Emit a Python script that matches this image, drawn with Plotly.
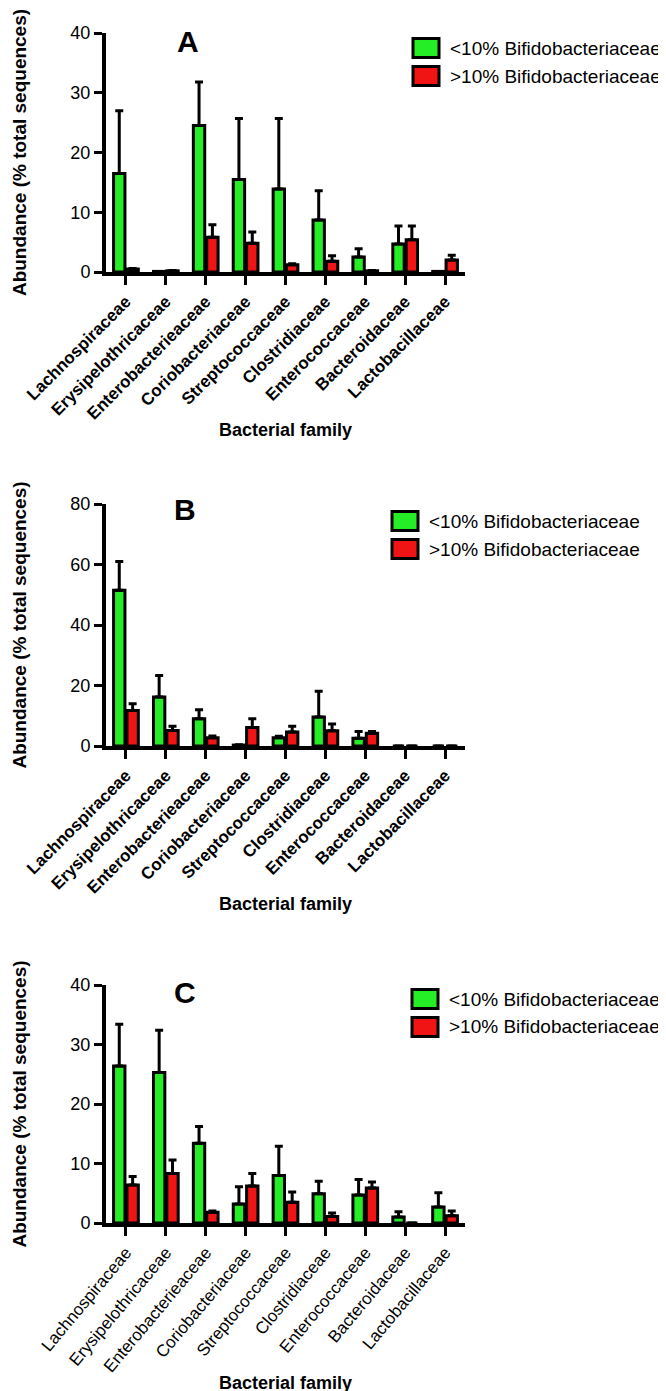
import plotly.graph_objects as go

# ---------------- data ----------------
families = ["Lachnospiraceae", "Erysipelothricaceae", "Enterobacterieaceae",
            "Coriobacteriaceae", "Streptococcaceae", "Clostridiaceae",
            "Enterococcaceae", "Bacteroidaceae", "Lactobacillaceae"]
series_names = ["<10% Bifidobacteriaceae", ">10% Bifidobacteriaceae"]
panel_labels = ["A", "B", "C"]

a_low = [16.5, 0.1, 24.5, 15.5, 13.9, 8.7, 2.5, 4.7, 0.1]
a_low_err = [10.5, 0.0, 7.3, 10.2, 11.8, 4.9, 1.4, 3.0, 0.0]
a_high = [0.5, 0.2, 5.8, 4.8, 1.2, 1.8, 0.2, 5.4, 2.0]
a_high_err = [0.1, 0.05, 2.1, 1.9, 0.2, 0.9, 0.05, 2.3, 0.8]

b_low = [51.5, 16.2, 9.0, 0.3, 2.7, 9.6, 2.6, 0.0, 0.0]
b_low_err = [9.5, 7.1, 3.0, 0.1, 0.5, 8.5, 2.2, 0.0, 0.0]
b_high = [11.7, 5.1, 2.7, 6.1, 4.6, 5.0, 4.2, 0.0, 0.0]
b_high_err = [2.3, 1.4, 0.6, 2.9, 1.9, 2.3, 0.6, 0.0, 0.0]

c_low = [26.4, 25.3, 13.4, 3.2, 8.0, 4.9, 4.7, 1.0, 2.7]
c_low_err = [7.0, 7.1, 2.8, 2.9, 4.9, 2.1, 2.6, 0.9, 2.4]
c_high = [6.4, 8.3, 1.8, 6.2, 3.5, 1.1, 5.9, 0.0, 1.2]
c_high_err = [1.4, 2.3, 0.2, 2.1, 1.7, 0.6, 1.0, 0.0, 0.8]

y_max = [40, 80, 40]
y_dtick = [10, 20, 10]

# ---------------- layout helpers ----------------
W, H = 666, 1391
PAGE_OFF = 8  # default page margin around the plot div
GREEN = "#26EE26"
RED = "#F01414"
FONT = "Liberation Sans, Arial, sans-serif"


def px_x(p):
    return (p - PAGE_OFF) / W


def px_y(p):
    return 1 - (p - PAGE_OFF) / H


# pixel geometry of each panel in the page (top, bottom of plot area)
panels_px = [(33, 272), (504, 746), (985, 1223)]
x_left, x_right = 106, 465
legend_px = [(413, 48), (392, 521), (412, 999)]  # swatch left, first row center
letter_px = [(188, 41), (185, 510), (185, 992)]

data = [
    (a_low, a_low_err, a_high, a_high_err),
    (b_low, b_low_err, b_high, b_high_err),
    (c_low, c_low_err, c_high, c_high_err),
]

fig = go.Figure()
shapes = []
annotations = []

for i, (lo, lo_e, hi, hi_e) in enumerate(data):
    xa = "x" if i == 0 else f"x{i+1}"
    ya = "y" if i == 0 else f"y{i+1}"
    for vals, errs, name, col in [(lo, lo_e, series_names[0], GREEN),
                                  (hi, hi_e, series_names[1], RED)]:
        fig.add_trace(go.Bar(
            x=families, y=vals, name=name, showlegend=False,
            xaxis=xa, yaxis=ya,
            marker=dict(color=col, line=dict(color="black", width=3)),
            error_y=dict(type="data", array=errs, arrayminus=[0] * len(errs),
                         symmetric=False, color="black", thickness=3, width=4),
        ))

    top, bot = panels_px[i]
    bold_ticks = i < 2
    xkey = "xaxis" if i == 0 else f"xaxis{i+1}"
    ykey = "yaxis" if i == 0 else f"yaxis{i+1}"
    fig.update_layout(**{
        xkey: dict(
            domain=[px_x(x_left), px_x(x_right)], anchor=ya,
            range=[-0.5, len(families) - 0.5], automargin=False,
            showline=True, linewidth=4, linecolor="black",
            ticks="outside", ticklen=9, tickwidth=3, tickcolor="black",
            tickangle=-45 if bold_ticks else -50,
            tickfont=dict(family=FONT, size=17, color="black",
                          weight="bold" if bold_ticks else "normal"),
            showgrid=False, zeroline=False,
            title=dict(text="Bacterial family", standoff=2,
                       font=dict(family=FONT, size=18, color="black",
                                 weight="bold")),
        ),
        ykey: dict(
            domain=[px_y(bot), px_y(top)], anchor=xa,
            range=[0, y_max[i]], dtick=y_dtick[i], automargin=False,
            showline=True, linewidth=4, linecolor="black",
            ticks="outside", ticklen=8, tickwidth=3, tickcolor="black",
            tickfont=dict(family=FONT, size=18, color="black"),
            showgrid=False, zeroline=False,
            title=dict(text="Abundance (% total sequences)", standoff=40,
                       font=dict(family=FONT, size=19, color="black",
                                 weight="bold")),
        ),
    })

    # panel letter
    lx, ly = letter_px[i]
    annotations.append(dict(
        x=px_x(lx), y=px_y(ly), xref="paper", yref="paper",
        text=panel_labels[i], showarrow=False,
        font=dict(family=FONT, size=30, color="black", weight="bold"),
        xanchor="center", yanchor="middle"))

    # legend (custom swatches)
    sx, sy = legend_px[i]
    for k, (name, col) in enumerate(zip(series_names, [GREEN, RED])):
        cy = sy + k * 28
        shapes.append(dict(
            type="rect", xref="paper", yref="paper",
            x0=px_x(sx), x1=px_x(sx + 26), y0=px_y(cy + 9.5), y1=px_y(cy - 9.5),
            fillcolor=col, line=dict(color="black", width=3)))
        annotations.append(dict(
            x=px_x(sx + 35), y=px_y(cy), xref="paper", yref="paper",
            text=name, showarrow=False, xanchor="left", yanchor="middle",
            font=dict(family=FONT, size=19, color="black")))

fig.update_layout(
    width=W, height=H,
    margin=dict(l=0, r=0, t=0, b=0, autoexpand=False),
    paper_bgcolor="white", plot_bgcolor="white",
    barmode="group", bargap=0.33, bargroupgap=0.15,
    showlegend=False,
    shapes=shapes, annotations=annotations,
    font=dict(family=FONT, color="black"),
)

fig.write_html("out.html")
